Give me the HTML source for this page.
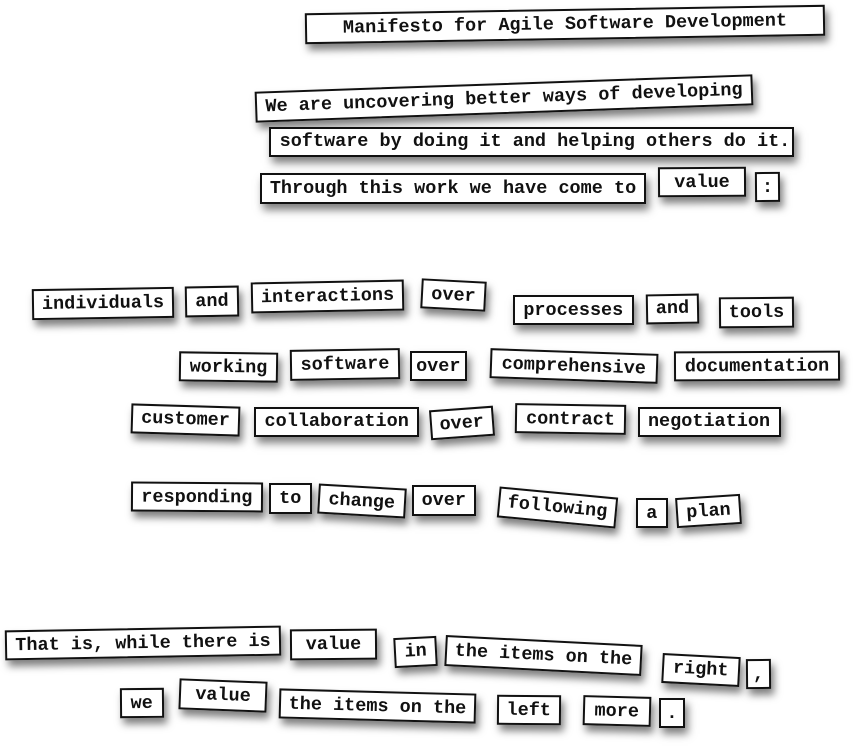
<!DOCTYPE html>
<html>
<head>
<meta charset="utf-8">
<style>
  html, body { margin: 0; padding: 0; }
  body {
    width: 859px; height: 748px; overflow: hidden; background: #ffffff;
    position: relative;
  }
  .t {
    position: absolute;
    box-sizing: border-box;
    border: 2.5px solid #111;
    background: #fff;
    box-shadow: 3px 6px 8px rgba(0,0,0,0.5);
    font-family: "Courier New", "Liberation Mono", monospace;
    font-weight: bold;
    font-size: 18.5px;
    color: #111;
    white-space: nowrap;
    display: flex;
    align-items: center;
    justify-content: center;
    transform-origin: 50% 50%;
  }
</style>
</head>
<body>

<div class="t" style="left:305.3px;top:9.2px;width:520px;height:31px;transform:rotate(-0.93deg);">Manifesto for Agile Software Development</div>
<div class="t" style="left:254.5px;top:82.75px;width:498px;height:30.5px;transform:rotate(-2deg);">We are uncovering better ways of developing</div>
<div class="t" style="left:269.1px;top:126.5px;width:525px;height:30px;justify-content:flex-start;padding-left:8.5px;">software by doing it and helping others do it.</div>
<div class="t" style="left:260px;top:173.15px;width:386px;height:30.5px;">Through this work we have come to</div>
<div class="t" style="left:657.6px;top:167px;width:88px;height:30px;transform:rotate(-0.3deg);">value</div>
<div class="t" style="left:754.7px;top:172.2px;width:25px;height:30px;transform:rotate(-0.5deg);">:</div>

<div class="t" style="left:32px;top:287.8px;width:142px;height:31px;transform:rotate(-0.9deg);">individuals</div>
<div class="t" style="left:185px;top:286px;width:54px;height:31px;transform:rotate(-1deg);">and</div>
<div class="t" style="left:251px;top:280.75px;width:153px;height:30.5px;transform:rotate(-1.1deg);">interactions</div>
<div class="t" style="left:421.2px;top:280px;width:65px;height:30px;transform:rotate(3deg);">over</div>
<div class="t" style="left:512.8px;top:295px;width:121px;height:30px;">processes</div>
<div class="t" style="left:646.1px;top:294.25px;width:53px;height:29.5px;transform:rotate(-1deg);">and</div>
<div class="t" style="left:718.5px;top:296.9px;width:75px;height:31px;transform:rotate(-0.5deg);">tools</div>

<div class="t" style="left:178.5px;top:351.5px;width:99px;height:30px;transform:rotate(0.8deg);">working</div>
<div class="t" style="left:289.6px;top:349.2px;width:110px;height:31px;transform:rotate(-0.9deg);">software</div>
<div class="t" style="left:409.8px;top:351.25px;width:57px;height:29.5px;">over</div>
<div class="t" style="left:489.95px;top:351px;width:167.5px;height:30px;transform:rotate(1.95deg);">comprehensive</div>
<div class="t" style="left:674.4px;top:351.2px;width:166px;height:30px;transform:rotate(-0.3deg);">documentation</div>

<div class="t" style="left:130.5px;top:404.85px;width:109px;height:29.5px;transform:rotate(1.7deg);">customer</div>
<div class="t" style="left:254.2px;top:406.8px;width:165px;height:30px;">collaboration</div>
<div class="t" style="left:430.25px;top:407.5px;width:63.5px;height:30px;transform:rotate(-4.2deg);">over</div>
<div class="t" style="left:514.5px;top:404px;width:111px;height:30px;transform:rotate(0.9deg);">contract</div>
<div class="t" style="left:637.5px;top:406.7px;width:143px;height:30px;">negotiation</div>

<div class="t" style="left:130.95px;top:482.2px;width:131.7px;height:30px;transform:rotate(0.4deg);">responding</div>
<div class="t" style="left:268.95px;top:483.45px;width:42.7px;height:30.5px;">to</div>
<div class="t" style="left:318.25px;top:485.8px;width:87.5px;height:30px;transform:rotate(3.3deg);">change</div>
<div class="t" style="left:411.65px;top:485.3px;width:64.3px;height:31px;">over</div>
<div class="t" style="left:498px;top:491.55px;width:119px;height:30.5px;transform:rotate(5.4deg);">following</div>
<div class="t" style="left:635.95px;top:498.3px;width:31.7px;height:30px;">a</div>
<div class="t" style="left:675.8px;top:496.2px;width:65px;height:30px;transform:rotate(-3.8deg);">plan</div>

<div class="t" style="left:5px;top:628.4px;width:276px;height:30px;transform:rotate(-1deg);">That is, while there is</div>
<div class="t" style="left:290.3px;top:628.7px;width:87px;height:31px;transform:rotate(-0.5deg);">value</div>
<div class="t" style="left:393.7px;top:637.15px;width:43.4px;height:29.5px;transform:rotate(-3deg);">in</div>
<div class="t" style="left:445.4px;top:640.2px;width:197px;height:31px;transform:rotate(2.9deg);">the items on the</div>
<div class="t" style="left:661.95px;top:654.65px;width:77.5px;height:29.5px;transform:rotate(3deg);">right</div>
<div class="t" style="left:746.1px;top:658.8px;width:25px;height:30px;transform:rotate(-0.5deg);">,</div>

<div class="t" style="left:119.55px;top:687.8px;width:43.5px;height:30px;transform:rotate(-0.5deg);">we</div>
<div class="t" style="left:179.2px;top:680.05px;width:88px;height:30.5px;transform:rotate(2.2deg);">value</div>
<div class="t" style="left:278.5px;top:690.8px;width:197px;height:30px;transform:rotate(1.5deg);">the items on the</div>
<div class="t" style="left:497.25px;top:694.5px;width:63.5px;height:30px;transform:rotate(0.5deg);">left</div>
<div class="t" style="left:582.95px;top:695.5px;width:67.5px;height:30px;transform:rotate(1.5deg);">more</div>
<div class="t" style="left:659.15px;top:698.3px;width:25.7px;height:30px;">.</div>

</body>
</html>
